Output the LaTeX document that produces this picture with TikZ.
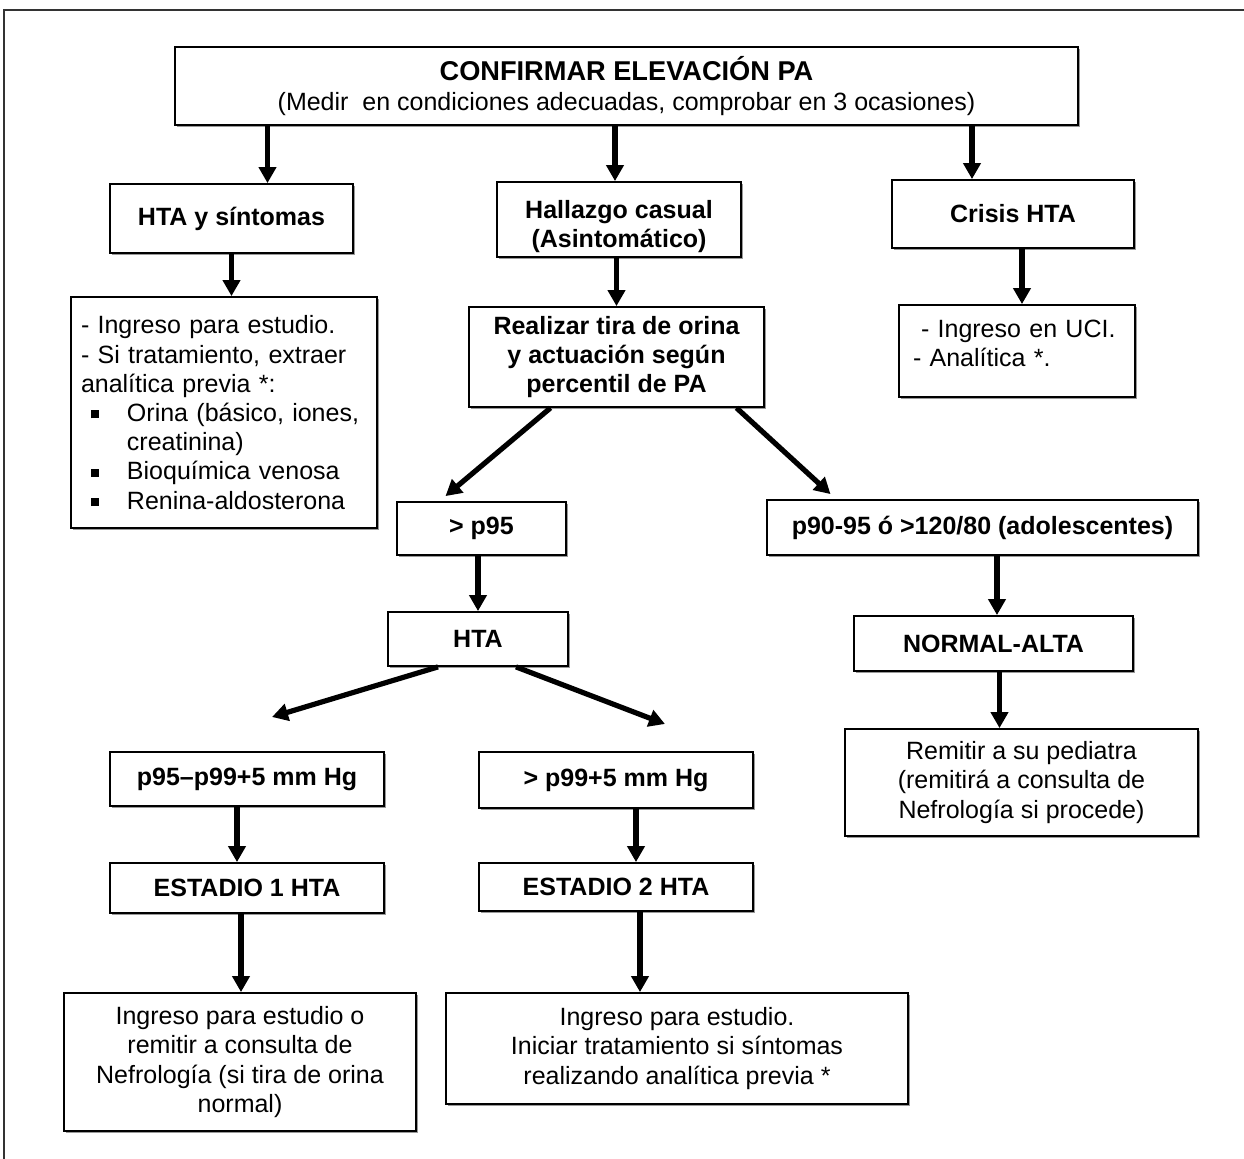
\documentclass[tikz,border=0pt]{standalone}
\usepackage{fontspec}
\setmainfont{Liberation Sans}
\usetikzlibrary{arrows.meta,shadows}

\newcommand{\sqitem}{\makebox[23pt][l]{\hspace{5pt}\rule[1.5pt]{4pt}{4pt}}}

\tikzset{
  box/.style={draw, line width=0.9pt, fill=white, align=center, inner sep=3pt,
    font=\fontsize{12.5}{14.6}\selectfont,
    drop shadow={shadow xshift=0.8pt, shadow yshift=-0.9pt, fill=black!40, opacity=1}},
  bbox/.style={box, font=\fontsize{12.5}{14.6}\selectfont\bfseries},
  flow/.style={line width=2.6pt, -{Triangle[length=8pt, width=8.5pt]}},
}

\begin{document}
\begin{tikzpicture}[x=0.5pt, y=-0.5pt]
\useasboundingbox (0,0) rectangle (1244,1159);
% frame
\draw[line width=0.8pt, black!80] (4,1159) -- (4,10) -- (1244,10);

% first row
\node[box, minimum width=451.5pt, minimum height=39pt] (top) at (626.5,86)
  {{\fontsize{13.6}{15.5}\selectfont\bfseries CONFIRMAR ELEVACIÓN PA}\\(Medir\ \ en condiciones adecuadas, comprobar en 3 ocasiones)};
\node[bbox, minimum width=121.5pt, minimum height=34.5pt] (sint) at (231.5,218.5) {HTA y síntomas};
\node[bbox, minimum width=122pt, minimum height=37.5pt, inner ysep=1pt] (casual) at (619,219.5) {\mbox{}\\[1.4pt]Hallazgo casual\\(Asintomático)};
\node[bbox, minimum width=121pt, minimum height=34pt] (crisis) at (1013,214) {Crisis HTA};

% second row
\node[box, minimum width=153pt, minimum height=115.5pt, text width=143pt, align=left, inner xsep=5pt] (ingreso) at (224,412.5)
  {- Ingreso para estudio.\\
   - Si tratamiento, extraer\\
   analítica previa *:\\
   \sqitem Orina (básico, iones,\\
   \hspace*{23pt}creatinina)\\
   \sqitem Bioquímica venosa\\
   \sqitem Renina-aldosterona};
\node[bbox, minimum width=147.5pt, minimum height=50pt] (tira) at (616.5,357)
  {Realizar tira de orina\\y actuación según\\percentil de PA};
\node[box, minimum width=118pt, minimum height=46pt, text width=104pt, align=left, inner xsep=7pt] (uci) at (1017,351)
  {\hspace*{4pt}- Ingreso en UCI.\\- Analítica *.\\[-7pt]\mbox{}};

% percentiles
\node[bbox, minimum width=84.5pt, minimum height=26.5pt] (p95) at (481.5,528.5) {> p95};
\node[bbox, minimum width=215.5pt, minimum height=27.5pt] (p90) at (982.5,527.5) {p90-95 ó >120/80 (adolescentes)};
\node[bbox, minimum width=90pt, minimum height=27pt] (hta) at (478,639) {HTA};
\node[bbox, minimum width=139.5pt, minimum height=27.5pt] (normal) at (993.5,643.5) {NORMAL-ALTA};
\node[box, minimum width=176.5pt, minimum height=53.5pt] (pediatra) at (1021.5,782.5)
  {Remitir a su pediatra\\(remitirá a consulta de\\Nefrología si procede)};

% stages
\node[bbox, minimum width=137pt, minimum height=27pt] (p99a) at (247,779) {p95–p99+5 mm Hg};
\node[bbox, minimum width=137pt, minimum height=28pt] (p99b) at (616,780) {> p99+5 mm Hg};
\node[bbox, minimum width=137pt, minimum height=25pt] (est1) at (247,888) {ESTADIO 1 HTA};
\node[bbox, minimum width=137pt, minimum height=24pt] (est2) at (616,887) {ESTADIO 2 HTA};
\node[box, minimum width=176pt, minimum height=69pt] (nefro) at (240,1062)
  {Ingreso para estudio o\\remitir a consulta de\\Nefrología (si tira de orina\\normal)};
\node[box, minimum width=231pt, minimum height=55.5pt] (trat) at (677,1048.5)
  {Ingreso para estudio.\\Iniciar tratamiento si síntomas\\realizando analítica previa *};

% arrow ends
\coordinate (c1) at ([xshift=18pt]sint.north);
\coordinate (c2) at ([xshift=-2pt]casual.north);
\coordinate (c3) at ([xshift=-20.5pt]crisis.north);
\coordinate (c4) at ([xshift=2.5pt]uci.north);
\coordinate (c5) at ([xshift=3pt]normal.south);
\coordinate (c6) at ([xshift=-5pt]p99a.south);
\coordinate (c7) at ([xshift=10pt]p99b.south);
\coordinate (c8) at ([xshift=-3pt]est1.south);
\coordinate (c9) at ([xshift=12pt]est2.south);
\coordinate (c10) at ([xshift=1.75pt]normal.north);
\coordinate (fl) at (272,717);
\coordinate (fr) at (665,724);

\draw[flow] (c1 |- top.south) -- (c1);
\draw[flow] (c2 |- top.south) -- (c2);
\draw[flow] (c3 |- top.south) -- (c3);
\draw[flow] (sint.south) -- (sint.south |- ingreso.north);
\draw[flow] (tira.north |- casual.south) -- (tira.north);
\draw[flow] (c4 |- crisis.south) -- (c4);
\draw[flow] ([xshift=-33pt]tira.south) -- ([xshift=-18pt,yshift=2.5pt]p95.north);
\draw[flow] ([xshift=60pt]tira.south) -- ([xshift=-76pt,yshift=2.5pt]p90.north);
\draw[flow] (hta.north |- p95.south) -- (hta.north);
\draw[flow] (c10 |- p90.south) -- (c10);
\draw[flow] (c5) -- (c5 |- pediatra.north);
\draw[flow] ([xshift=-20pt]hta.south) -- (fl);
\draw[flow] ([xshift=19pt]hta.south) -- (fr);
\draw[flow] (c6) -- (c6 |- est1.north);
\draw[flow] (c7) -- (c7 |- est2.north);
\draw[flow] (c8) -- (c8 |- nefro.north);
\draw[flow] (c9) -- (c9 |- trat.north);
\end{tikzpicture}
\end{document}
